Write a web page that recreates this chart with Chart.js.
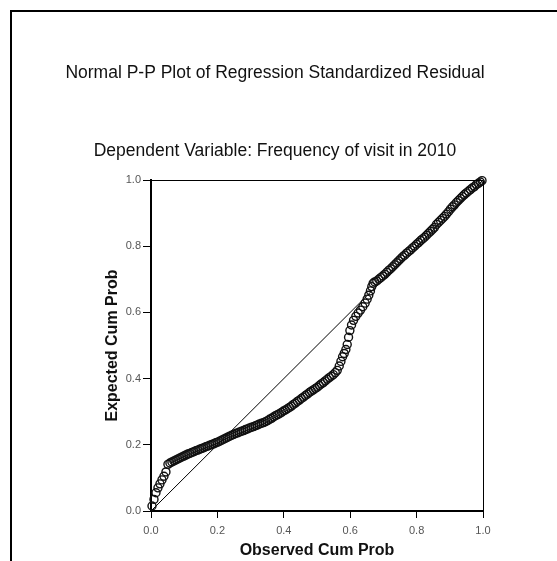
<!DOCTYPE html>
<html lang="en">
<head>
  <title>Normal P-P Plot</title>
  <meta charset="utf-8">
  <script src="https://cdn.jsdelivr.net/npm/chart.js"></script>
  <style>
    body { margin: 0; background: #fff; }
    .chart-container { width: 557px; height: 561px; position: relative; }
  </style>
</head>
<body>
<div class="chart-container">
  <canvas id="pp-plot"></canvas>
</div>
<script>
  const titleText = 'Normal P-P Plot of Regression Standardized Residual';
  const subtitleText = 'Dependent Variable: Frequency of visit in 2010';
  const xTitle = 'Observed Cum Prob';
  const yTitle = 'Expected Cum Prob';
  const tickLabels = ['0.0', '0.2', '0.4', '0.6', '0.8', '1.0'];
  const diagonal = [0, 1];

  // observed cum prob (x)
  const observed = [
    0.003, 0.009, 0.015, 0.021, 0.027, 0.033, 0.039, 0.045,
    0.051, 0.057, 0.063, 0.069, 0.075, 0.081, 0.087, 0.093, 0.099, 0.105,
    0.111, 0.117, 0.123, 0.129, 0.135, 0.141, 0.147, 0.153, 0.159, 0.165,
    0.171, 0.177, 0.183, 0.189, 0.195, 0.201, 0.207, 0.213, 0.219, 0.225,
    0.231, 0.237, 0.243, 0.249, 0.255, 0.261, 0.267, 0.273, 0.279, 0.285,
    0.291, 0.297, 0.303, 0.309, 0.315, 0.321, 0.327, 0.333, 0.339, 0.345,
    0.351, 0.357, 0.363, 0.369, 0.375, 0.381, 0.387, 0.393, 0.399, 0.405,
    0.411, 0.417, 0.423, 0.429, 0.435, 0.441, 0.447, 0.453, 0.459, 0.465,
    0.471, 0.477, 0.483, 0.489, 0.495, 0.501, 0.507, 0.513, 0.519, 0.525,
    0.531, 0.537, 0.543, 0.549, 0.555, 0.561,
    0.567, 0.572, 0.577, 0.582, 0.587, 0.591, 0.595, 0.599, 0.604, 0.610,
    0.617, 0.624, 0.631, 0.638, 0.645, 0.651, 0.656, 0.661, 0.665, 0.669, 0.674,
    0.680, 0.686, 0.692, 0.698, 0.704, 0.710, 0.716, 0.722, 0.728, 0.734,
    0.740, 0.746, 0.752, 0.758, 0.764, 0.770, 0.776, 0.782, 0.788, 0.794,
    0.800, 0.806, 0.812, 0.818, 0.824, 0.830, 0.836, 0.842, 0.848, 0.854,
    0.860, 0.866, 0.872, 0.878, 0.884, 0.890, 0.896, 0.902, 0.908, 0.914,
    0.920, 0.926, 0.932, 0.938, 0.944, 0.950, 0.956, 0.962, 0.968, 0.974,
    0.980, 0.986, 0.992, 0.997
  ];

  // expected cum prob (y), same order
  const expected = [
    0.015, 0.035, 0.055, 0.070, 0.082, 0.094, 0.105, 0.118,
    0.141, 0.145, 0.148, 0.151, 0.154, 0.157, 0.160, 0.163, 0.166, 0.169,
    0.172, 0.174, 0.177, 0.179, 0.182, 0.184, 0.187, 0.189, 0.191, 0.194,
    0.196, 0.199, 0.201, 0.203, 0.206, 0.208, 0.211, 0.214, 0.217, 0.220,
    0.223, 0.226, 0.229, 0.231, 0.234, 0.236, 0.239, 0.241, 0.243, 0.246,
    0.248, 0.251, 0.253, 0.255, 0.258, 0.260, 0.263, 0.265, 0.267, 0.270,
    0.273, 0.277, 0.280, 0.284, 0.288, 0.291, 0.294, 0.298, 0.302, 0.305,
    0.309, 0.313, 0.317, 0.322, 0.326, 0.331, 0.335, 0.340, 0.344, 0.349,
    0.353, 0.358, 0.362, 0.366, 0.370, 0.374, 0.379, 0.384, 0.388, 0.393,
    0.398, 0.403, 0.407, 0.412, 0.418, 0.425,
    0.438, 0.452, 0.466, 0.476, 0.488, 0.503, 0.525, 0.545, 0.562, 0.576,
    0.588, 0.598, 0.607, 0.617, 0.628, 0.640, 0.652, 0.665, 0.678, 0.688, 0.692,
    0.695, 0.700, 0.705, 0.710, 0.715, 0.721, 0.727, 0.732, 0.738, 0.744,
    0.750, 0.756, 0.762, 0.768, 0.773, 0.779, 0.784, 0.789, 0.795, 0.800,
    0.806, 0.811, 0.817, 0.822, 0.827, 0.833, 0.839, 0.845, 0.851, 0.857,
    0.866, 0.872, 0.878, 0.884, 0.890, 0.897, 0.904, 0.912, 0.919, 0.925,
    0.932, 0.938, 0.944, 0.950, 0.956, 0.961, 0.966, 0.971, 0.976, 0.980,
    0.986, 0.990, 0.994, 0.998
  ];

  const FONT = '"Liberation Sans", Arial, Helvetica, sans-serif';
  Chart.defaults.font.family = FONT;

  // outer frame, plot box top/right edges and the two titles
  const frame = {
    id: 'frame',
    afterDraw: (chart) => {
      const { ctx, chartArea: { top, right, bottom, left } } = chart;
      ctx.save();
      ctx.fillStyle = '#000';
      ctx.fillRect(10, 10, 547, 2);
      ctx.fillRect(10, 10, 2, 551);

      ctx.strokeStyle = '#000';
      ctx.lineWidth = 1;
      ctx.beginPath();
      ctx.moveTo(left, top + 0.5);
      ctx.lineTo(right + 0.5, top + 0.5);
      ctx.lineTo(right + 0.5, bottom);
      ctx.stroke();

      ctx.fillStyle = '#111';
      ctx.font = '17.5px ' + FONT;
      ctx.textAlign = 'center';
      ctx.textBaseline = 'alphabetic';
      ctx.fillText(titleText, 275, 78);
      ctx.fillText(subtitleText, 275, 156);
      ctx.restore();
    }
  };

  const points = observed.map((x, i) => ({ x: x, y: expected[i] }));

  new Chart(document.getElementById('pp-plot'), {
    type: 'scatter',
    data: {
      datasets: [{
        data: points,
        pointRadius: 4,
        pointHoverRadius: 4,
        borderWidth: 1.4,
        borderColor: '#111',
        backgroundColor: 'rgba(255,255,255,0)',
        clip: false,
      }, {
        type: 'line',
        data: diagonal.map(v => ({ x: v, y: v })),
        borderColor: '#000',
        borderWidth: 1,
        pointRadius: 0,
        fill: false,
      }]
    },
    options: {
      responsive: true,
      maintainAspectRatio: false,
      animation: false,
      layout: {
        padding: { top: 180, left: 100, right: 74, bottom: 0 }
      },
      plugins: {
        legend: { display: false },
        tooltip: { enabled: false },
      },
      scales: {
        x: {
          type: 'linear',
          min: 0,
          max: 1,
          afterFit: (scale) => { scale.height = 50; },
          border: { color: '#000', width: 2 },
          grid: { drawOnChartArea: false, color: '#000', tickLength: 7, tickWidth: 1 },
          ticks: {
            stepSize: 0.2,
            padding: 6,
            color: '#555',
            font: { size: 11 },
            callback: (v, i) => tickLabels[i],
          },
          title: {
            display: true,
            text: xTitle,
            color: '#111',
            font: { size: 16, weight: 'bold' },
            padding: { top: 0, bottom: 1 },
          }
        },
        y: {
          min: 0,
          max: 1,
          afterFit: (scale) => { scale.width = 51; },
          border: { color: '#000', width: 2 },
          grid: { drawOnChartArea: false, color: '#000', tickLength: 8, tickWidth: 1 },
          ticks: {
            stepSize: 0.2,
            padding: 2,
            color: '#555',
            font: { size: 11 },
            callback: (v, i) => tickLabels[i],
          },
          title: {
            display: true,
            text: yTitle,
            color: '#111',
            font: { size: 16, weight: 'bold' },
            padding: { top: 3, bottom: 0 },
          }
        }
      }
    },
    plugins: [frame]
  });
</script>
</body>
</html>
